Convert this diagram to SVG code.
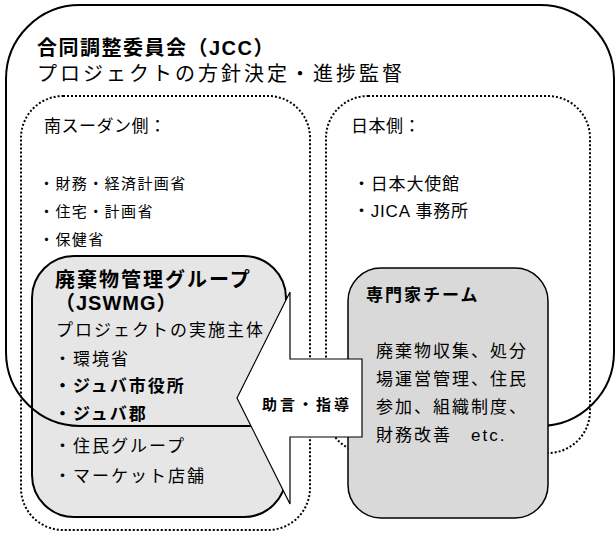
<svg xmlns="http://www.w3.org/2000/svg" width="616" height="533" viewBox="0 0 616 533">
<defs>
<style>
text{font-family:"Liberation Sans","Noto Sans CJK JP",sans-serif;fill:#000}
.b{font-weight:bold}
.t20{font-size:20px;letter-spacing:2px}
.t17{font-size:17px;letter-spacing:2px}
.h17{font-size:17px;letter-spacing:0.5px}
.t15{font-size:15px;letter-spacing:1.4px}
.j17{font-size:17px;letter-spacing:0.8px}
.dot{fill:none;stroke:#000;stroke-width:2;stroke-dasharray:2 2}
.solid{fill:none;stroke:#000;stroke-width:2}
</style>
</defs>
<rect width="616" height="533" fill="#fff"/>
<g id="south-sudan">
<rect class="dot" x="21" y="96" width="289" height="434" rx="42"/>
<text class="h17" x="44" y="132">南スーダン側：</text>
<text class="t15" x="39" y="189">・財務・経済計画省</text>
<text class="t15" x="39" y="217">・住宅・計画省</text>
<text class="t15" x="39" y="245">・保健省</text>
</g>
<g id="japan">
<rect class="dot" x="326" y="96" width="264" height="357" rx="42"/>
<text class="h17" x="351" y="132">日本側：</text>
<text class="j17" x="353" y="190">・日本大使館</text>
<text class="j17" x="353" y="217">・JICA 事務所</text>
</g>
<g id="jswmg">
<rect x="32" y="256" width="254" height="261" rx="42" fill="#e6e6e6" stroke="#000" stroke-width="2"/>
<text class="t20 b" x="55" y="287">廃棄物管理グループ</text>
<text class="b" x="55" y="310" style="font-size:20px;letter-spacing:1px">（JSWMG）</text>
<text class="t17" x="56" y="336">プロジェクトの実施主体</text>
<text class="t17" x="54" y="365">・環境省</text>
<text class="t17 b" x="54" y="392">・ジュバ市役所</text>
<text class="t17 b" x="54" y="420">・ジュバ郡</text>
<text class="t17" x="54" y="452">・住民グループ</text>
<text class="t17" x="54" y="482">・マーケット店舗</text>
</g>
<g id="jcc">
<rect class="solid" x="6" y="5" width="608" height="421" rx="74"/>
<text class="b" x="37" y="55" style="font-size:20px;letter-spacing:1.5px">合同調整委員会（JCC）</text>
<text x="37" y="81" style="font-size:20px;letter-spacing:3px">プロジェクトの方針決定・進捗監督</text>
</g>
<g id="expert-team">
<rect x="348" y="268" width="200" height="250" rx="33" fill="#d9d9d9" stroke="#000" stroke-width="1.5"/>
<text class="t17 b" x="366" y="301">専門家チーム</text>
<text class="t17" x="376" y="357">廃棄物収集、処分</text>
<text class="t17" x="376" y="385">場運営管理、住民</text>
<text class="t17" x="376" y="413">参加、組織制度、</text>
<text class="t17" x="376" y="441">財務改善　etc.</text>
</g>
<g id="connectors">
<polygon points="237,398 290,292 290,359 362,359 362,437 290,437 290,504" fill="#fff" stroke="#000" stroke-width="1.2" stroke-linejoin="miter"/>
<text class="b" x="262" y="410" style="font-size:15px;letter-spacing:3px">助言・指導</text>
</g>
</svg>
